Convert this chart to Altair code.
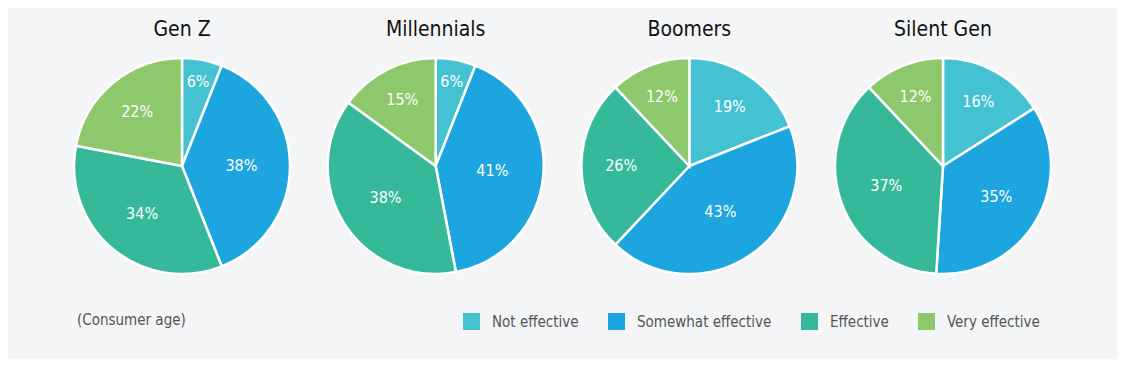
import altair as alt
import pandas as pd

gens = ["Gen Z", "Millennials", "Boomers", "Silent Gen"]
cats = ["Not effective", "Somewhat effective", "Effective", "Very effective"]
colors = ["#45c2d2", "#1ca5de", "#36b99a", "#8dc86c"]

not_effective = [6, 6, 19, 16]
somewhat_effective = [38, 41, 43, 35]
effective = [34, 38, 26, 37]
very_effective = [22, 15, 12, 12]

note = "(Consumer age)"

series = [not_effective, somewhat_effective, effective, very_effective]
rows = []
for gi, g in enumerate(gens):
    for ci, c in enumerate(cats):
        rows.append({"gen": g, "cat": c, "order": ci, "value": series[ci][gi]})
df = pd.DataFrame(rows)

FONT = "DejaVu Sans Condensed, sans-serif"
R = 108

xscale = alt.Scale(type="point", domain=gens, padding=0.686)
tscale = alt.Scale(domain=[0, 1])

base = alt.Chart(df).transform_window(
    cum="sum(value)", groupby=["gen"], sort=[alt.SortField("order")]
).transform_joinaggregate(
    total="sum(value)", groupby=["gen"]
).transform_calculate(
    start="(datum.cum - datum.value) / datum.total",
    end="datum.cum / datum.total",
    frac="datum.value / datum.total",
).transform_calculate(
    mid="(datum.start + datum.end) / 2",
    ang="datum.frac * 2 * PI",
).transform_calculate(
    lr="1.06 * 4 * 108 * sin(datum.ang / 2) / (3 * datum.ang) + (datum.frac < 0.1 ? 10 : 0)",
    label="datum.value + '%'",
)

arcs = base.mark_arc(outerRadius=R, stroke="white", strokeWidth=2.5).encode(
    x=alt.X("gen:N", scale=xscale, axis=None),
    y=alt.value(158),
    theta=alt.Theta("start:Q", scale=tscale, stack=False),
    theta2="end:Q",
    color=alt.Color(
        "cat:N",
        scale=alt.Scale(domain=cats, range=colors),
        legend=alt.Legend(
            title=None,
            orient="none",
            legendX=455,
            legendY=305,
            direction="horizontal",
            symbolType="square",
            symbolSize=289,
            symbolStrokeWidth=0,
            labelFontSize=15,
            labelFont=FONT,
            labelColor="#555555",
            labelOffset=12,
            columnPadding=29,
            padding=0,
        ),
    ),
)

labels = base.mark_text(color="white", fontSize=16, font=FONT).encode(
    x=alt.X("gen:N", scale=xscale, axis=None),
    y=alt.value(158),
    theta=alt.Theta("mid:Q", scale=tscale, stack=False),
    radius=alt.Radius("lr:Q", scale=None),
    text="label:N",
)

titles = alt.Chart(pd.DataFrame({"gen": gens})).mark_text(
    fontSize=21, font=FONT, color="#111111", baseline="middle"
).encode(
    x=alt.X("gen:N", scale=xscale, axis=None),
    y=alt.value(22),
    text="gen:N",
)

note_text = alt.Chart(pd.DataFrame({"t": [note]})).mark_text(
    fontSize=15, font=FONT, color="#555555", align="left", baseline="middle"
).encode(
    x=alt.value(69),
    y=alt.value(312),
    text="t:N",
)

chart = alt.layer(arcs, labels, titles, note_text).properties(
    width=1109,
    height=351,
    autosize=alt.AutoSizeParams(type="none"),
    padding=0,
    background="#f4f5f7",
).configure_view(stroke=None)

chart.save("out.html", embed_options={"renderer": "svg", "actions": False})
